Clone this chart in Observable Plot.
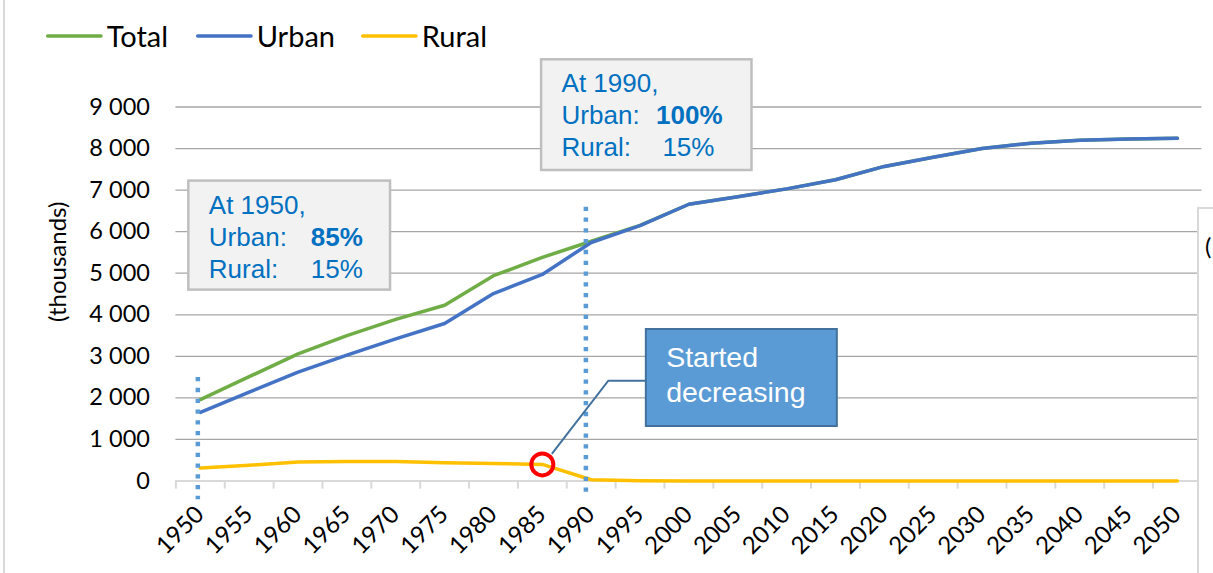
<!DOCTYPE html>
<html>
<head>
<meta charset="utf-8">
<script src="https://cdn.jsdelivr.net/npm/d3@7"></script>
<script src="https://cdn.jsdelivr.net/npm/@observablehq/plot@0.6"></script>
<style>
  html, body { margin: 0; padding: 0; background: #fff; overflow: hidden; }
  #wrap { position: relative; width: 1213px; height: 573px; }
  #legend { display: block; }
  #chart svg { display: block; }
  #leftBorder { position: absolute; left: 3px; top: 0; width: 2px; height: 573px; background: #d9d9d9; z-index: 10; }
</style>
</head>
<body>
<div id="wrap">
  <svg id="legend" width="1213" height="56"></svg>
  <div id="chart"></div>
  <div id="leftBorder"></div>
</div>
<script>
// ---------------- data ----------------
const years = [1950, 1955, 1960, 1965, 1970, 1975, 1980, 1985, 1990, 1995, 2000,
               2005, 2010, 2015, 2020, 2025, 2030, 2035, 2040, 2045, 2050];
const totalPop = [1960, 2510, 3060, 3500, 3890, 4230, 4940, 5380, 5770, 6150, 6660,
                  6840, 7030, 7250, 7570, 7790, 8000, 8130, 8200, 8230, 8250];
const urbanPop = [1650, 2140, 2620, 3030, 3420, 3790, 4510, 4970, 5740, 6145, 6660,
                  6840, 7030, 7250, 7570, 7790, 8000, 8130, 8200, 8230, 8250];
const ruralPop = [310, 380, 460, 470, 470, 440, 420, 400, 30, 5, 0,
                  0, 0, 0, 0, 0, 0, 0, 0, 0, 0];
const yTicks = [0, 1000, 2000, 3000, 4000, 5000, 6000, 7000, 8000, 9000];
const seriesNames = ["Total", "Urban", "Rural"];
const seriesColors = ["#70ad47", "#4472c4", "#ffc000"];
const yTitle = "(thousands)";
const markerYears = [1950, 1990];
const markerTops = [2490, 6590];
const box1950 = [["At 1950,", ""], ["Urban:", "85%"], ["Rural:", "15%"]];
const box1990 = [["At 1990,", ""], ["Urban:", "100%"], ["Rural:", "15%"]];
const calloutText = ["Started", "decreasing"];
const calloutYear = 1985;

// ---------------- legend ----------------
const leg = d3.select("#legend");
const legX = [47.7, 197.7, 362.7];
seriesNames.forEach((name, i) => {
  leg.append("line").attr("x1", legX[i]).attr("x2", legX[i] + 53.3)
    .attr("y1", 36).attr("y2", 36)
    .attr("stroke", seriesColors[i]).attr("stroke-width", 3.5).attr("stroke-linecap", "round");
  leg.append("text").attr("x", legX[i] + 59).attr("y", 46.5)
    .attr("font-family", "Lato, sans-serif").attr("font-size", 29).attr("fill", "#000")
    .text(name);
});

// ---------------- chart ----------------
const fmt = d => d3.format(",")(d).replace(/,/g, " ");
const bounds = years.map(y => y - 2.5).concat([years[years.length - 1] + 2.5]);
const line = (vals, color) => Plot.line(years, {
  x: d => d, y: (d, i) => vals[i], stroke: color, strokeWidth: 3.5,
  strokeLinejoin: "round", strokeLinecap: "round"
});
const calloutIdx = years.indexOf(calloutYear);

const plot = Plot.plot({
  width: 1213, height: 517,
  marginLeft: 175.4, marginRight: 11.6, marginTop: 50.5, marginBottom: 92.5,
  style: {fontFamily: "Lato, sans-serif", background: "transparent", overflow: "visible"},
  x: {type: "linear", domain: [bounds[0], bounds[bounds.length - 1]], axis: null},
  y: {domain: [0, 9000], axis: null},
  marks: [
    Plot.ruleY(yTicks.slice(1), {y: d => d, stroke: "#a6a6a6", strokeWidth: 1.3}),
    Plot.text(yTicks, {frameAnchor: "left", y: d => d, text: fmt, textAnchor: "end",
      dx: -26, fontSize: 23.5, fill: "#000"}),
    Plot.ruleY([0], {y: d => d, stroke: "#d9d9d9", strokeWidth: 2}),
    Plot.ruleX(bounds, {x: d => d, y1: 0, y2: -195, stroke: "#d9d9d9", strokeWidth: 2}),
    line(totalPop, seriesColors[0]),
    line(urbanPop, seriesColors[1]),
    line(ruralPop, seriesColors[2]),
    Plot.ruleX([markerYears[0]], {x: d => d, y1: markerTops[0], y2: -450, dx: -2.5,
      stroke: "#5b9bd5", strokeWidth: 4.5, strokeDasharray: "4.3,6.5"}),
    Plot.ruleX([markerYears[1]], {x: d => d, y1: markerTops[1], y2: -420, dx: -5.3,
      stroke: "#5b9bd5", strokeWidth: 4.5, strokeDasharray: "4.3,6.5"}),
    Plot.dot([calloutIdx], {x: i => years[i], y: i => ruralPop[i], r: 11,
      stroke: "#ff0000", strokeWidth: 4, fill: "none"}),
    Plot.text(years, {x: d => d, y: 0, text: d => String(d), rotate: -45,
      textAnchor: "end", lineAnchor: "bottom", dx: 5, dy: 35, fontSize: 24, fill: "#000"}),
    Plot.text([yTitle], {frameAnchor: "left", text: d => d, rotate: -90,
      dx: -117.4, dy: 28, fontSize: 24, fill: "#000"})
  ]
});
document.getElementById("chart").appendChild(plot);

// ---------------- annotations ----------------
const svg = d3.select(plot);
const X = v => plot.scale("x").apply(v);
const Y = v => plot.scale("y").apply(v);
const ann = svg.append("g")
  .attr("font-family", "'Liberation Sans', Arial, sans-serif")
  .attr("text-anchor", "start");

function infoBox(left, top, w, h, rows, col2) {
  ann.append("rect").attr("x", left).attr("y", top).attr("width", w).attr("height", h)
    .attr("fill", "#f2f2f2").attr("stroke", "#bfbfbf").attr("stroke-width", 2.5);
  rows.forEach((r, i) => {
    const by = top + 33 + i * 32;
    ann.append("text").attr("x", left + 20.5).attr("y", by).attr("font-size", 26)
      .attr("fill", "#0070c0").text(r[0]);
    if (r[1]) ann.append("text").attr("x", left + col2[i]).attr("y", by).attr("font-size", 26)
      .attr("fill", "#0070c0").attr("font-weight", i === 1 ? "bold" : "normal").text(r[1]);
  });
}
infoBox(X(1950) - 11.5, Y(7000) - 9, 201.7, 109, box1950, [0, 122.4, 122.4]);
infoBox(X(1990) - 49.6, Y(9000) - 47.2, 210.4, 110.7, box1990, [0, 115, 121.3]);

// callout
const cx = X(calloutYear), cy = Y(ruralPop[calloutIdx]);
const bl = cx + 104, bt = Y(0) - 151.5;
ann.append("path")
  .attr("d", `M${cx + 10},${cy - 10} L${bl - 37.5},${bt + 51.7} L${bl},${bt + 51.7}`)
  .attr("fill", "none").attr("stroke", "#41719c").attr("stroke-width", 2);
ann.append("rect").attr("x", bl).attr("y", bt).attr("width", 191).attr("height", 97)
  .attr("fill", "#5b9bd5").attr("stroke", "#41719c").attr("stroke-width", 2);
calloutText.forEach((t, i) => {
  ann.append("text").attr("x", bl + 20.3).attr("y", bt + 37.7 + i * 35)
    .attr("font-size", 28.5).attr("fill", "#fff").text(t);
});

// partially visible neighbouring element on the right edge
ann.append("rect").attr("x", 1198).attr("y", 152).attr("width", 40).attr("height", 400)
  .attr("fill", "#fff").attr("stroke", "#d9d9d9").attr("stroke-width", 2);
ann.append("text").attr("x", 1205).attr("y", 199).attr("font-family", "Lato, sans-serif")
  .attr("font-size", 24).attr("fill", "#000").text("(");
</script>
</body>
</html>
